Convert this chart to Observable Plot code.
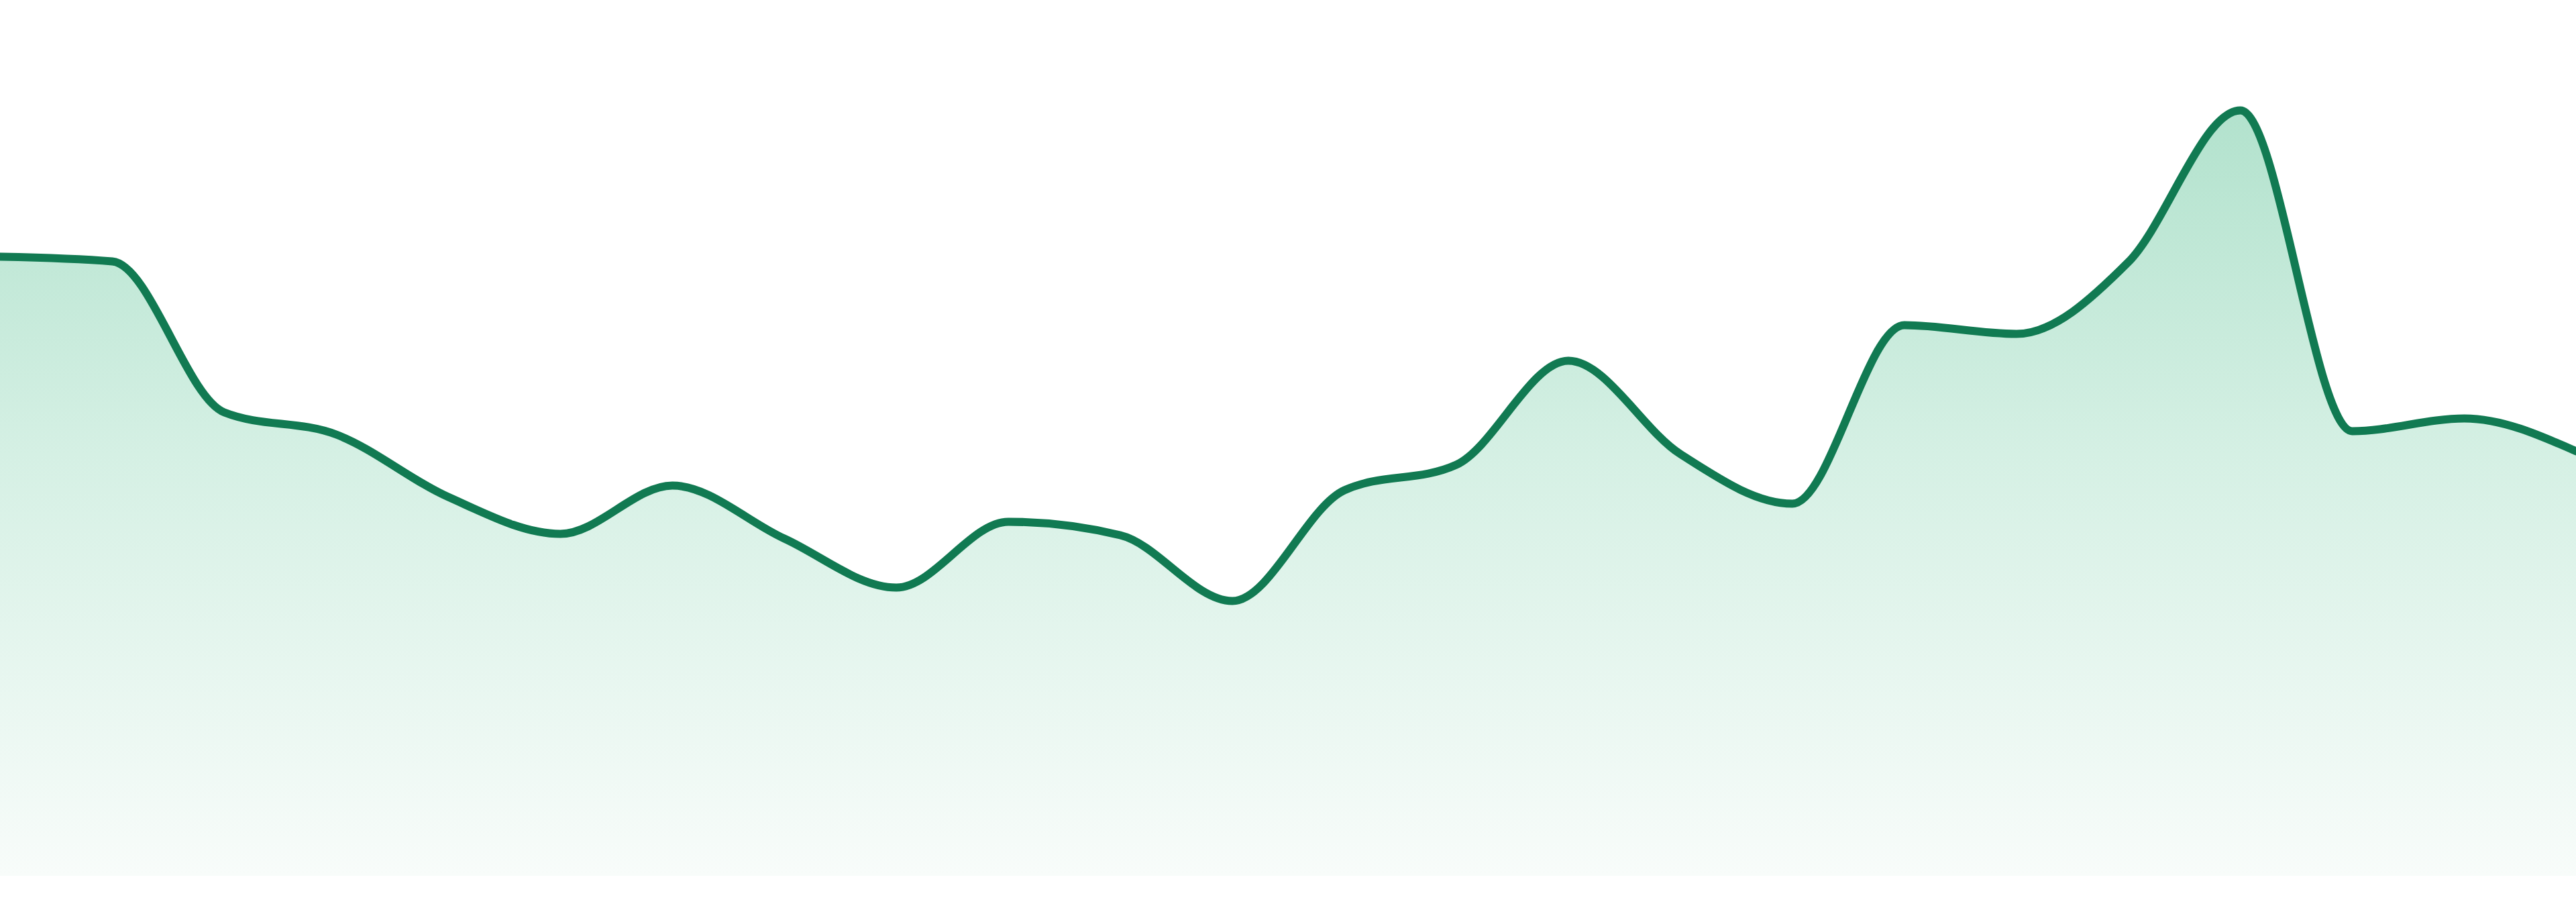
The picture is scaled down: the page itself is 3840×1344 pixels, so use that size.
<!DOCTYPE html>
<html>
<head>
<meta charset="utf-8">
<script src="https://cdn.jsdelivr.net/npm/d3@7"></script>
<script src="https://cdn.jsdelivr.net/npm/@observablehq/plot@0.6"></script>
<style>
  html, body { margin: 0; padding: 0; background: #ffffff; }
  #chart svg { display: block; }
</style>
</head>
<body>
<div id="chart"></div>
<script>
// Period index (no visible tick labels in the reference)
const periods = [0, 1, 2, 3, 4, 5, 6, 7, 8, 9, 10, 11, 12, 13, 14, 15, 16, 17, 18, 19, 20, 21, 22, 23];
// Series values (arbitrary units)
const values = [92.3, 91.6, 69.1, 65.8, 56.5, 51.0, 58.2, 50.3, 43.0, 52.8, 50.8, 41.0,
                57.5, 61.3, 76.8, 62.9, 55.5, 82.1, 80.8, 91.5, 114.1, 66.3, 68.2, 63.3];

const data = periods.map((p, i) => ({period: p, value: values[i]}));

const lineColor = "#117a52";

function gradientDefs() {
  const ns = "http://www.w3.org/2000/svg";
  const defs = document.createElementNS(ns, "defs");
  const lg = document.createElementNS(ns, "linearGradient");
  lg.setAttribute("id", "areaFill");
  lg.setAttribute("x1", "0"); lg.setAttribute("y1", "0");
  lg.setAttribute("x2", "0"); lg.setAttribute("y2", "1");
  [["0%", "#b2e2cd"], ["45%", "#d5f0e4"], ["100%", "#f8fcfa"]].forEach(([o, c]) => {
    const s = document.createElementNS(ns, "stop");
    s.setAttribute("offset", o);
    s.setAttribute("stop-color", c);
    lg.appendChild(s);
  });
  defs.appendChild(lg);
  return defs;
}

const chart = Plot.plot({
  width: 3840,
  height: 1344,
  marginTop: 0,
  marginRight: 0,
  marginBottom: 39,
  marginLeft: 0,
  x: {domain: [0, 23], axis: null},
  y: {domain: [0, 130.5], axis: null},
  marks: [
    gradientDefs,
    Plot.areaY(data, {x: "period", y: "value", curve: "monotone-x", fill: "url(#areaFill)"}),
    Plot.lineY(data, {x: "period", y: "value", curve: "monotone-x", stroke: lineColor,
                      strokeWidth: 12, strokeLinejoin: "round", strokeLinecap: "round"})
  ]
});
document.getElementById("chart").appendChild(chart);
</script>
</body>
</html>
